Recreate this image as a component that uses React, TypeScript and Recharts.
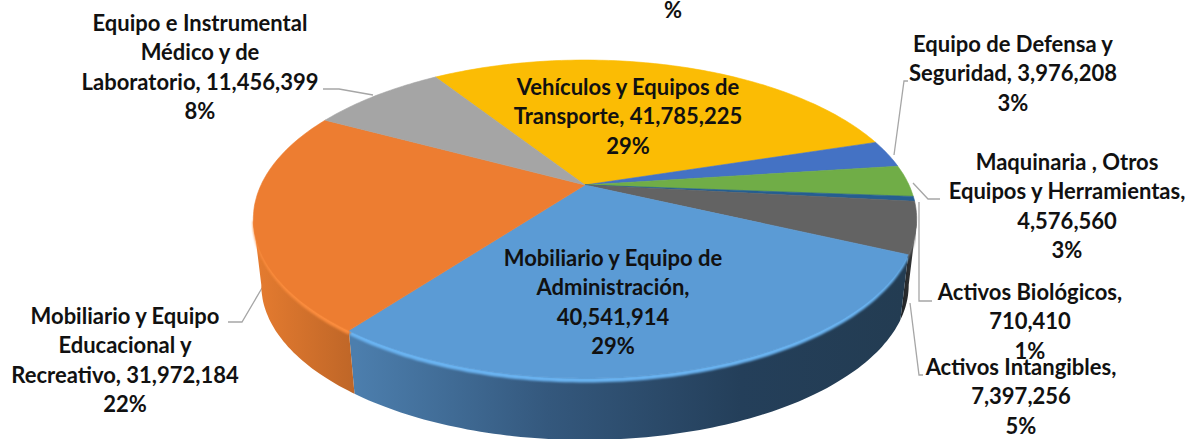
import { PieChart, Pie, Cell } from "recharts";

const categories = [
  "Vehículos y Equipos de\nTransporte,",
  "Equipo de Defensa y\nSeguridad,",
  "Maquinaria , Otros\nEquipos y Herramientas,",
  "Activos Biológicos,",
  "Activos Intangibles,",
  "Mobiliario y Equipo de\nAdministración,",
  "Mobiliario y Equipo\nEducacional y\nRecreativo,",
  "Equipo e Instrumental\nMédico y de\nLaboratorio,",
];
const values = [41785225, 3976208, 4576560, 710410, 7397256, 40541914, 31972184, 11456399];
const percents = ["29%", "3%", "3%", "1%", "5%", "29%", "22%", "8%"];
const valueOnOwnLine = [false, false, true, true, true, true, false, false];
const colors = ["#FBBC04", "#4472C4", "#70AD47", "#255E91", "#636363", "#5B9BD5", "#ED7D31", "#A5A5A5"];
const wallFills = ["#b38600", "#2f5597", "#4e7a32", "#1a4266", "url(#wallGray)", "url(#wallBlue)", "url(#wallOrange)", "#777"];
const rimColors = ["#FFC000", "#4472C4", "#70AD47", "#255E91", "#777777", "#6ab4f2", "#fb8c3c", "#A5A5A5"];

// label anchor: center x, y of first line
const labelX = [628, 1013, 1067, 1030, 1021, 613, 125, 200];
const labelY = [88, 45, 163, 293, 368, 259, 317, 24];
const LINE_H = 29.3;
const FONT = "Lato, sans-serif";

const leaders = [
  "323,89 339,89 373,95",
  "908,81 904,81 894,155",
  "913,183 928,199 940,199",
  "919,202 919,301 932,301",
  "910,303 919,375 923,375",
  "262,288 242,322 228,322",
];

const chartData = values.map((value, i) => ({ name: categories[i], value }));

// pie is seen in perspective, so the disc is projected instead of just squashed
const CX = 585;
const CY = 185;
const A = 324;
const B = 151.7;
const K = 0.2138;
const FRONT_START = -12.4;
const FRONT_END = -167.6;
const RAD = Math.PI / 180;

function topPoint(deg: number) {
  const u = Math.cos(deg * RAD);
  const v = Math.sin(deg * RAD);
  const w = 1 + K * v;
  return [CX + (A * u) / w, CY - (B * v) / w];
}

function bottomPoint(deg: number) {
  const [x, y] = topPoint(deg);
  return [CX + (x - CX) * 0.976, 285 + (y - 219) * 0.975];
}

function arc(from: number, to: number, fn: (d: number) => number[]) {
  const pts: number[][] = [];
  const step = from > to ? -1 : 1;
  for (let d = from; step > 0 ? d < to : d > to; d += step) pts.push(fn(d));
  pts.push(fn(to));
  return pts;
}

const toPath = (pts: number[][]) => pts.map((p) => `${p[0].toFixed(1)} ${p[1].toFixed(1)}`).join(" L ");

function TopSlice(props: any) {
  const { startAngle, endAngle, fill } = props;
  const pts = arc(startAngle, endAngle, topPoint);
  return <path d={`M ${CX} ${CY} L ${toPath(pts)} Z`} fill={fill} stroke={fill} strokeWidth={0.6} />;
}

function WallSlice(props: any) {
  const { startAngle, endAngle, index } = props;
  // the pie goes around clockwise, so wrap angles into the front range
  let a = startAngle;
  let b = endAngle;
  if (a > 180) { a -= 360; b -= 360; }
  const from = Math.min(a, FRONT_START);
  const to = Math.max(b, FRONT_END);
  if (from <= to) return <g />;
  const upper = arc(from, to, topPoint);
  const lower = arc(to, from, bottomPoint);
  return (
    <g>
      <path d={`M ${toPath(upper)} L ${toPath(lower)} Z`} fill={wallFills[index]} />
      <path
        d={`M ${toPath(upper.map((p) => [p[0] + (CX - p[0]) * 0.006, p[1] + 2]))}`}
        fill="none"
        stroke={rimColors[index]}
        strokeWidth={5}
        filter="url(#rimBlur)"
      />
    </g>
  );
}

function SliceLabel(props: any) {
  const { index, value } = props;
  const formatted = value.toLocaleString("en-US");
  const lines = categories[index].split("\n");
  if (valueOnOwnLine[index]) lines.push(formatted);
  else lines[lines.length - 1] += " " + formatted;
  lines.push(percents[index]);
  return (
    <text textAnchor="middle" fontFamily={FONT} fontWeight={700} fontSize={22} fill="#111">
      {lines.map((line, i) => (
        <tspan key={i} x={labelX[index]} y={labelY[index] + 7 + i * LINE_H}>
          {line}
        </tspan>
      ))}
    </text>
  );
}

export default function App() {
  return (
    <div style={{ position: "absolute", left: 0, top: 0, width: 1191, height: 439, background: "#fff" }}>
      <PieChart width={1191} height={439} margin={{ top: 0, right: 0, bottom: 0, left: 0 }}>
        <defs>
          <linearGradient id="wallBlue" gradientUnits="userSpaceOnUse" x1="356" y1="0" x2="905" y2="0">
            <stop offset="0" stopColor="#4c7ead" />
            <stop offset="0.35" stopColor="#34587d" />
            <stop offset="0.7" stopColor="#243f5a" />
            <stop offset="1" stopColor="#233c52" />
          </linearGradient>
          <linearGradient id="wallOrange" gradientUnits="userSpaceOnUse" x1="253" y1="0" x2="358" y2="0">
            <stop offset="0" stopColor="#e67c30" />
            <stop offset="1" stopColor="#bd6527" />
          </linearGradient>
          <linearGradient id="wallGray" gradientUnits="userSpaceOnUse" x1="900" y1="0" x2="917" y2="0">
            <stop offset="0" stopColor="#1e2226" />
            <stop offset="1" stopColor="#3a3a3a" />
          </linearGradient>
          <filter id="rimBlur" x="-5%" y="-5%" width="110%" height="110%">
            <feGaussianBlur stdDeviation="1.2" />
          </filter>
        </defs>
        <Pie
          data={chartData}
          dataKey="value"
          cx={CX}
          cy={CY}
          outerRadius={150}
          startAngle={123}
          endAngle={-237}
          stroke="none"
          shape={WallSlice}
          label={false}
          labelLine={false}
          isAnimationActive={false}
        />
        <Pie
          data={chartData}
          dataKey="value"
          cx={CX}
          cy={CY}
          outerRadius={150}
          startAngle={123}
          endAngle={-237}
          stroke="none"
          shape={TopSlice}
          label={SliceLabel}
          labelLine={false}
          isAnimationActive={false}
        >
          {chartData.map((entry, index) => (
            <Cell key={`cell-${index}`} fill={colors[index]} />
          ))}
        </Pie>
        {leaders.map((points, i) => (
          <polyline key={i} points={points} fill="none" stroke="#a6a6a6" strokeWidth={1.3} />
        ))}
        <text x={673} y={18} textAnchor="middle" fontFamily={FONT} fontWeight={700} fontSize={22} fill="#111">
          %
        </text>
      </PieChart>
    </div>
  );
}
